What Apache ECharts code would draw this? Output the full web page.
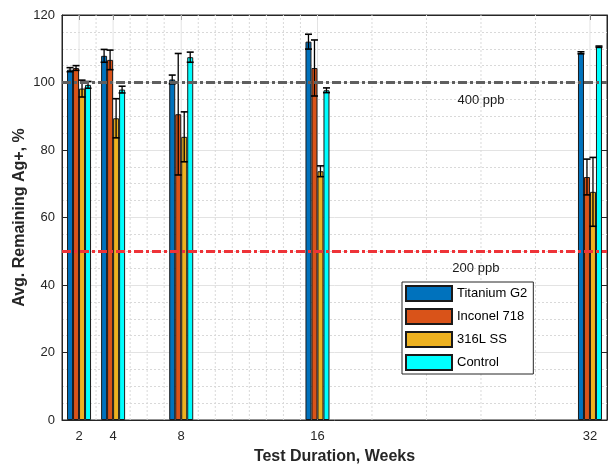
<!DOCTYPE html>
<html><head><meta charset="utf-8">
<script src="https://cdn.jsdelivr.net/npm/echarts@6/dist/echarts.min.js"></script>
<style>html,body{margin:0;padding:0;background:#fff}#c{width:610px;height:465px}</style>
</head><body><div id="c"></div>
<script>
// ---- data ----
const weeks = [2, 4, 8, 16, 32];
const seriesNames = ['Titanium G2', 'Inconel 718', '316L SS', 'Control'];
const titanium    = [103.8, 107.9, 100.9, 112.1, 108.8];
const titaniumErr = [0.6, 1.9, 1.3, 2.2, 0.3];
const inconel     = [104.3, 106.7, 90.6, 104.3, 72.0];
const inconelErr  = [0.7, 2.9, 18.0, 8.3, 5.3];
const ss316       = [98.2, 89.4, 83.9, 73.7, 67.6];
const ss316Err    = [2.5, 5.8, 7.4, 1.6, 10.2];
const control     = [99.3, 97.9, 107.5, 97.7, 110.6];
const controlErr  = [1.0, 1.0, 1.5, 0.7, 0.2];
const xTickLabels = [2, 4, 8, 16, 32];
const refValues = [100, 50];
const refLabels = ['400 ppb', '200 ppb'];
const minorGridWeeks = [3, 5, 6, 7, 9, 10, 11, 12, 13, 14, 15, 19.2, 22.4, 25.6, 28.8];

// ---- style ----
const colors = ['#0072BD', '#D95319', '#EDB120', '#00FFFF'];
const refColors = ['#5f5f5f', '#EE3338'];
const FONT = 'Liberation Sans, Arial, sans-serif';
const BAR_W = 6;
const AX = '#262626';

const values = [titanium, inconel, ss316, control];
const errs = [titaniumErr, inconelErr, ss316Err, controlErr];

const series = [];
// vertical grid lines (behind bars)
series.push({
  type: 'custom', name: 'vgrid', silent: true, z: 1,
  data: minorGridWeeks.map(w => [w]).concat(xTickLabels.map(w => [w, 1])),
  encode: { x: 0 },
  renderItem: function (params, api) {
    const x = api.value(0);
    const major = api.value(1) === 1;
    const p0 = api.coord([x, 0]), p1 = api.coord([x, 120]);
    return { type: 'line', shape: { x1: p0[0], y1: p0[1], x2: p1[0], y2: p1[1] },
      style: major ? { stroke: '#e3e3e3', lineWidth: 1 } : { stroke: '#d9d9d9', lineWidth: 1, lineDash: [2, 2] } };
  }
});
values.forEach((vals, k) => {
  series.push({
    type: 'bar', name: seriesNames[k], z: 2,
    data: weeks.map((w, i) => [w, vals[i]]),
    barWidth: BAR_W, barGap: '0%',
    itemStyle: { color: colors[k], borderColor: '#1a1a1a', borderWidth: 1 }
  });
});
values.forEach((vals, k) => {
  series.push({
    type: 'custom', name: 'err' + k, z: 4, silent: true,
    data: weeks.map((w, i) => [w, vals[i], errs[k][i]]),
    encode: { x: 0, y: 1 },
    renderItem: function (params, api) {
      const x = api.value(0), v = api.value(1), e = api.value(2);
      const hi = api.coord([x, v + e]), lo = api.coord([x, v - e]);
      const cx = hi[0] + (k - 1.5) * BAR_W;
      const hw = 3.5;
      const st = { stroke: '#000', lineWidth: 1.3 };
      return { type: 'group', children: [
        { type: 'line', shape: { x1: cx, y1: hi[1], x2: cx, y2: lo[1] }, style: st },
        { type: 'line', shape: { x1: cx - hw, y1: hi[1], x2: cx + hw, y2: hi[1] }, style: { stroke: '#000', lineWidth: 1.6 } },
        { type: 'line', shape: { x1: cx - hw, y1: lo[1], x2: cx + hw, y2: lo[1] }, style: { stroke: '#000', lineWidth: 1.6 } }
      ]};
    }
  });
});
// reference lines
refValues.forEach((rv, k) => {
  series.push({
    type: 'line', name: 'ref' + k, data: [], z: 5,
    markLine: {
      silent: true, symbol: ['none', 'none'], label: { show: false },
      lineStyle: { color: refColors[k], width: 3, type: [9, 3, 3, 3] },
      data: [{ yAxis: rv }]
    }
  });
});
// reference labels
const refLabelPos = [[25.6, 94.8], [25.3, 45.0]];
series.push({
  type: 'custom', name: 'reflabels', z: 6, silent: true,
  data: refLabels.map((t, k) => [refLabelPos[k][0], refLabelPos[k][1], k]),
  encode: { x: 0, y: 1 },
  renderItem: function (params, api) {
    const p = api.coord([api.value(0), api.value(1)]);
    return { type: 'text', x: p[0], y: p[1],
      style: { text: refLabels[api.value(2)], fill: '#1a1a1a', font: '13px ' + FONT, align: 'center', verticalAlign: 'middle' } };
  }
});

const option = {
  animation: false,
  backgroundColor: '#fff',
  grid: { left: 62, right: 3, top: 15, bottom: 45, outerBoundsMode: 'none', containLabel: false,
    show: true, borderColor: AX, borderWidth: 1, backgroundColor: '#fff' },
  legend: {
    data: seriesNames.map(n => ({ name: n, icon: 'rect' })),
    orient: 'vertical', left: 402, top: 282,
    itemWidth: 46, itemHeight: 15, itemGap: 6,
    padding: [3, 6, 3, 3],
    borderColor: AX, borderWidth: 1, backgroundColor: '#fff',
    textStyle: { fontFamily: FONT, fontSize: 13, color: '#000' }
  },
  xAxis: [{
    type: 'value', min: 1, max: 33, interval: 1,
    name: 'Test Duration, Weeks', nameLocation: 'middle', nameGap: 29,
    nameTextStyle: { fontFamily: FONT, fontSize: 16, fontWeight: 'bold', color: AX },
    axisLine: { show: true, onZero: false, lineStyle: { color: AX, width: 1 } },
    axisTick: { show: true, inside: true, length: 5, customValues: xTickLabels, lineStyle: { color: AX } },
    axisLabel: { customValues: xTickLabels, fontFamily: FONT, fontSize: 13, color: AX, margin: 10 },
    splitLine: { show: false }
  }, {
    type: 'value', min: 1, max: 33, interval: 1, position: 'top',
    axisLine: { show: true, onZero: false, lineStyle: { color: AX } },
    axisTick: { show: true, inside: true, length: 5, customValues: xTickLabels, lineStyle: { color: AX } },
    axisLabel: { show: false }, splitLine: { show: false }
  }],
  yAxis: [{
    type: 'value', min: 0, max: 120, interval: 20,
    name: 'Avg. Remaining Ag+, %', nameLocation: 'middle', nameGap: 34, nameMoveOverlap: false,
    nameTextStyle: { fontFamily: FONT, fontSize: 16, fontWeight: 'bold', color: AX },
    axisLine: { show: true, lineStyle: { color: AX } },
    axisTick: { show: true, inside: true, length: 5, lineStyle: { color: AX } },
    axisLabel: { fontFamily: FONT, fontSize: 13, color: AX, margin: 7 },
    splitLine: { show: true, lineStyle: { color: '#e3e3e3', width: 1 } },
    minorTick: { show: false, splitNumber: 4 },
    minorSplitLine: { show: true, lineStyle: { color: '#d9d9d9', width: 1, type: [2, 2] } }
  }, {
    type: 'value', min: 0, max: 120, interval: 20, position: 'right',
    axisLine: { show: true, lineStyle: { color: AX } },
    axisTick: { show: true, inside: true, length: 5, lineStyle: { color: AX } },
    axisLabel: { show: false }, splitLine: { show: false }
  }],
  series: series
};
const chart = echarts.init(document.getElementById('c'), null, { renderer: 'canvas' });
chart.setOption(option);
</script>
</body></html>
